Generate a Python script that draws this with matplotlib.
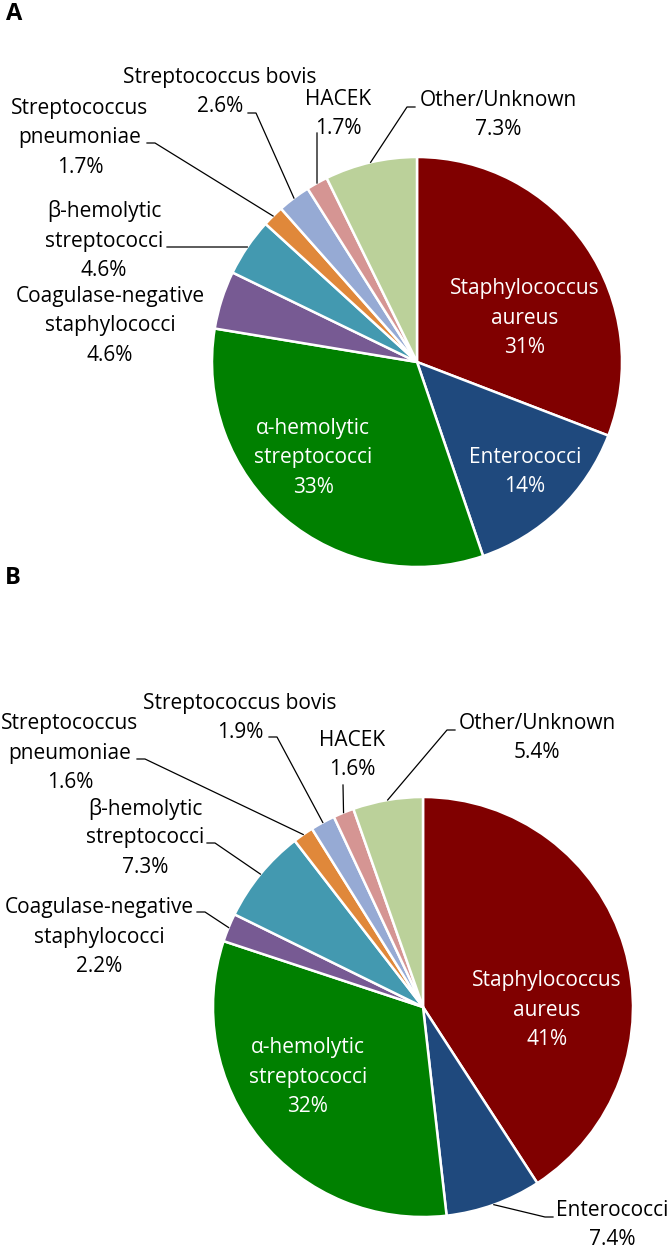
import numpy as np
import matplotlib.pyplot as plt

plt.rcParams['font.family'] = ['Open Sans', 'DejaVu Sans']

# organism groups, clockwise from 12 o'clock
names = ['Staphylococcus\naureus', 'Enterococci', 'α-hemolytic\nstreptococci',
         'Coagulase-negative\nstaphylococci', 'β-hemolytic\nstreptococci',
         'Streptococcus\npneumoniae', 'Streptococcus bovis', 'HACEK', 'Other/Unknown']
colors = ['#800000', '#1F497D', '#008000', '#775A93', '#4399B0',
          '#E0883A', '#96AAD4', '#D59593', '#BBD19A']

values_a = [31, 14, 33, 4.6, 4.6, 1.7, 2.6, 1.7, 7.3]
values_b = [41, 7.4, 32, 2.2, 7.3, 1.6, 1.9, 1.6, 5.4]

W, H = 669, 1248
LINE = 29.5  # px between label lines

# layout in pixels: pie centre/radius, label block centres, leader elbows
layout_a = {
    'center': (417, 362), 'radius': 205, 'letter': ('A', 14, 14),
    'text': [(525, 318), (525, 472), (313, 458), (110, 326), (104, 241),
             (80, 138), (220, 92), (338, 114), (498, 115)],
    'inside': [True, True, True, False, False, False, False, False, False],
    'leader': [None, None, None, None, [(175, 247), (167, 247)],
               [(155, 143), (147, 143)], [(256, 113), (248, 113)],
               [(317, 133)], [(407, 107), (415, 107)]],
}
layout_b = {
    'center': (423, 1007), 'radius': 210, 'letter': ('B', 13, 578),
    'text': [(547, 1010), (612, 1225), (308, 1077), (99, 937), (145, 838),
             (70, 753), (240, 718), (352, 755), (537, 738)],
    'inside': [True, False, True, False, False, False, False, False, False],
    'leader': [None, [(545, 1217), (553, 1217)], None,
               [(205, 912), (197, 912)], [(215, 843), (207, 843)],
               [(145, 759), (137, 759)], [(277, 737), (269, 737)],
               [(343, 785)], [(447, 730), (455, 730)]],
}


def fmt(v):
    return f'{v:.0f}%' if v >= 10 else f'{v:.1f}%'


fig = plt.figure(figsize=(W / 100, H / 100), dpi=100)
ax = fig.add_axes([0, 0, 1, 1])
ax.set_xlim(0, W)
ax.set_ylim(H, 0)
ax.set_aspect('equal')
ax.axis('off')

for values, lay in [(values_a, layout_a), (values_b, layout_b)]:
    cx, cy = lay['center']
    r = lay['radius']
    # y axis is inverted, so counterclock=True runs clockwise on screen
    wedges, _ = ax.pie(values, colors=colors, startangle=-90, counterclock=True,
                       center=(cx, cy), radius=r, frame=True,
                       wedgeprops=dict(edgecolor='white', linewidth=1.8))
    for i, w in enumerate(wedges):
        tx, ty = lay['text'][i]
        col = 'white' if lay['inside'][i] else 'black'
        lines = f'{names[i]}\n{fmt(values[i])}'.split('\n')
        n = len(lines)
        for k, s in enumerate(lines):
            ax.text(tx, ty + (k - (n - 1) / 2) * LINE, s, ha='center', va='center',
                    fontsize=15, color=col)
        if lay['leader'][i]:
            mid = np.radians((w.theta1 + w.theta2) / 2)
            pts = [(cx + r * np.cos(mid), cy + r * np.sin(mid))] + lay['leader'][i]
            xs, ys = zip(*pts)
            ax.plot(xs, ys, color='black', lw=0.9)
    letter, lx, ly = lay['letter']
    ax.text(lx, ly, letter, ha='center', va='center', fontsize=17, fontweight='bold')

ax.set_xlim(0, W)
ax.set_ylim(H, 0)
ax.axis('off')

fig.savefig('out.png', dpi=100, facecolor='white')
